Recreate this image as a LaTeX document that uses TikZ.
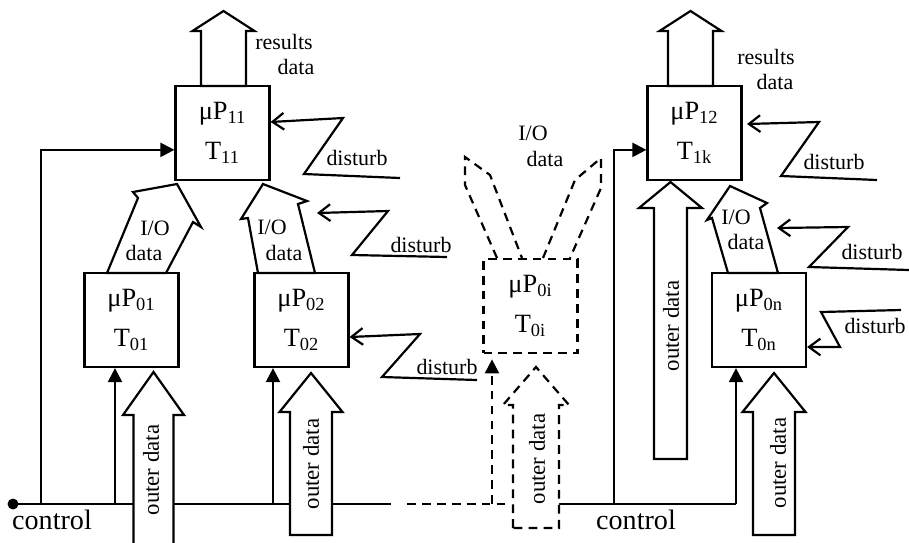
\documentclass[tikz,border=0pt]{standalone}
\usepackage{fontspec}
\setmainfont{Liberation Serif}
\usetikzlibrary{arrows.meta}

\begin{document}
\begin{tikzpicture}[x=0.02cm, y=-0.02cm, line width=1.25pt,
    font=\fontsize{12.5}{14}\selectfont,
    caja/.style={draw, minimum size=1.88cm, inner sep=0pt, align=center,
        font=\fontsize{15}{22.5}\selectfont},
    punteado/.style={dash pattern=on 5pt off 3.5pt},
    cajapunt/.style={caja, punteado},
    mando/.style={-{Triangle[length=8pt, width=8pt]}},
    ruido/.style={-{Straight Barb[length=6.5pt, width=9.5pt]}},
    bloque/.style={draw, fill=white},
    vertical/.style={rotate=90, font=\fontsize{13}{14}\selectfont},
    grande/.style={font=\fontsize{16}{18}\selectfont}]

    \useasboundingbox (0,0) rectangle (909,542);

    % #1 = estilo, #2 = eje, #3 = pie, #4 = base de la punta, #5 = punta,
    % #6/#7 = medio ancho del cuerpo / de la punta
    \newcommand{\flecha}[7]{%
        \draw[#1] (#2-#6,#3) -- (#2-#6,#4) -- (#2-#7,#4) -- (#2,#5)
            -- (#2+#7,#4) -- (#2+#6,#4) -- (#2+#6,#3) -- cycle;}

    % procesadores
    \node[caja] (p11) at (222.5,133) {μP\textsubscript{11}\\T\textsubscript{11}};
    \node[caja] (p01) at (131.5,320) {μP\textsubscript{01}\\T\textsubscript{01}};
    \node[caja] (p02) at (301.5,320) {μP\textsubscript{02}\\T\textsubscript{02}};
    \node[cajapunt] (p0i) at (530.5,306) {μP\textsubscript{0i}\\T\textsubscript{0i}};
    \node[caja] (p12) at (694.5,133) {μP\textsubscript{12}\\T\textsubscript{1k}};
    \node[caja] (p0n) at (759,320) {μP\textsubscript{0n}\\T\textsubscript{0n}};

    % bus de control
    \node[circle, fill, inner sep=2.2pt] (ini) at (13,504) {};
    \coordinate (c1) at (41,504);
    \coordinate (c2) at (115,504);
    \coordinate (c3) at (273,504);
    \coordinate (fin) at (391,504);
    \coordinate (pa) at (407,504);
    \coordinate (c4) at (492,504);
    \coordinate (pb) at (510,504);
    \coordinate (pc) at (559,504);
    \coordinate (c6) at (614,504);
    \coordinate (c5) at (736,504);
    \draw (ini.center) -- (fin);
    \draw[punteado] (pa) -- (pb);
    \draw (pc) -- (c5);
    \draw[mando] (c1) |- ([yshift=-9.6pt]p11.west);
    \draw[mando] (c2) -- (c2 |- p01.south);
    \draw[mando] (c3) -- (c3 |- p02.south);
    \draw[mando, punteado, shorten >=3pt] (c4) -- (c4 |- p0i.south);
    \draw[mando] (c6) |- ([yshift=-9.6pt]p12.west);
    \draw[mando] (c5) -- (c5 |- p0n.south);
    \node[grande] (ctl1) at (52,520) {control};
    \node[grande] (ctl2) at (636,520) {control};

    % datos de resultado y datos externos
    \flecha{bloque}{223.5}{86}{31}{11}{22.5}{31}
    \flecha{bloque}{690.5}{86}{31}{11}{22.5}{31}
    \flecha{bloque}{153.5}{548}{415}{372}{20}{30.5}
    \flecha{bloque}{311}{535}{412}{373}{21}{31.5}
    \flecha{bloque, punteado}{536}{528}{405}{367}{23}{33}
    \flecha{bloque}{670.5}{459}{208}{182}{16.5}{31.5}
    \flecha{bloque}{774}{535}{412}{373}{21}{31.5}
    \node[vertical] (od01) at (151,470) {outer data};
    \node[vertical] (od02) at (311,464) {outer data};
    \node[vertical] (od0i) at (537,459) {outer data};
    \node[vertical] (od12) at (671,326) {outer data};
    \node[vertical] (od0n) at (778,463) {outer data};
    \node (r11a) at (284,42) {results};
    \node (r11b) at (296,67) {data};
    \node (r12a) at (766,57) {results};
    \node (r12b) at (775,82) {data};

    % datos de E/S
    \draw[bloque] (107,273) -- (138,198) -- (133,192) -- (177,184)
        -- (201,227) -- (193,222) -- (166,273) -- cycle;
    \draw[bloque] (258,273) -- (248,218) -- (241,219) -- (263,184)
        -- (307,201) -- (298,204) -- (315,273) -- cycle;
    \draw[bloque] (728,273) -- (712,218) -- (707,220) -- (730,186)
        -- (767,203) -- (760,208) -- (778,273) -- cycle;
    \draw[punteado] (497,258) -- (465,185) -- (465,157) -- (490,175) -- (522,258);
    \draw[punteado] (543,258) -- (575,180) -- (601,158) -- (601,188) -- (570,258);
    \node (io1a) at (155,228) {I/O};
    \node (io1b) at (144,253) {data};
    \node (io2a) at (272,227) {I/O};
    \node (io2b) at (284,253) {data};
    \node (ioia) at (533,133) {I/O};
    \node (ioib) at (545,159) {data};
    \node (iona) at (736,217) {I/O};
    \node (ionb) at (746,242) {data};

    % perturbaciones
    \draw[ruido] (400,178) -- (304,174) -- (343,118) -- (p11.east |- 0,122);
    \draw[ruido] (447,257) -- (352,255) -- (388,211) -- (317,213);
    \draw[ruido] (477,380) -- (382,377) -- (420,334) -- (p02.east |- 0,337);
    \draw[ruido] (877,180) -- (781,176) -- (819,122) -- (747,124);
    \draw[ruido] (909,270) -- (809,267) -- (848,227) -- (777,228);
    \draw[ruido] (901,310) -- (821,312) -- (840,347) -- (p0n.east |- 0,347);
    \node (d11) at (357,158) {disturb};
    \node (d02a) at (421,245) {disturb};
    \node (d02) at (447,367) {disturb};
    \node (d12) at (834,162) {disturb};
    \node (d0na) at (872,252) {disturb};
    \node (d0n) at (875,326) {disturb};

\end{tikzpicture}
\end{document}
